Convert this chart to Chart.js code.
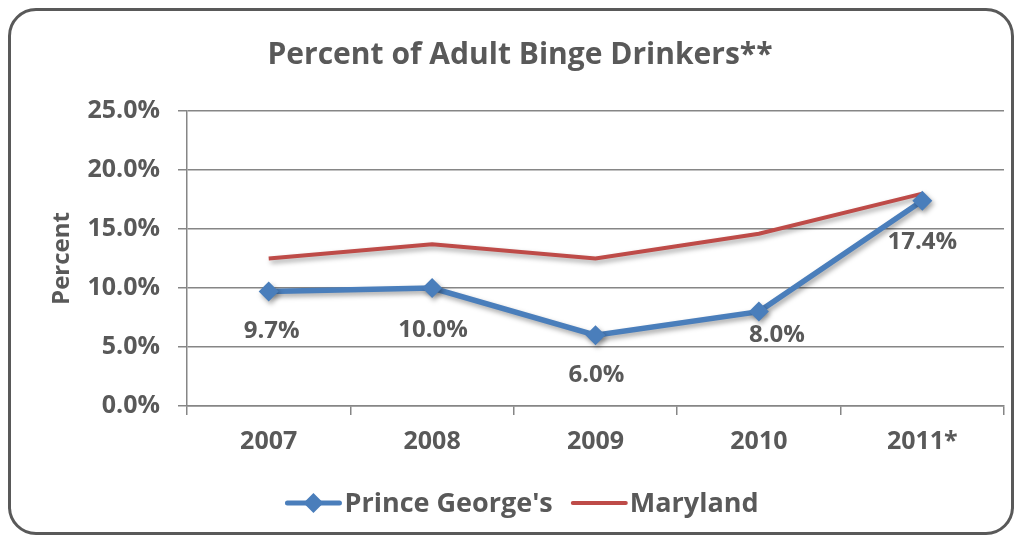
<!DOCTYPE html>
<html>
<head>
<meta charset="utf-8">
<script src="https://cdn.jsdelivr.net/npm/chart.js@4"></script>
<style>
    html, body { margin: 0; padding: 0; background: #fff; }
    #wrap { position: relative; width: 1021px; height: 542px; }
    #frame {
        position: absolute; left: 8px; top: 8px;
        width: 1000px; height: 521px;
        border: 3px solid #595959; border-radius: 28px;
    }
    #chart { position: absolute; left: 0; top: 0; }
</style>
</head>
<body>
<div id="wrap">
    <div id="frame"></div>
    <canvas id="chart" width="1021" height="542"></canvas>
</div>
<script>
// ===================================
// Data
// ===================================
const years = ['2007', '2008', '2009', '2010', '2011*'];
const princeGeorges = [9.7, 10.0, 6.0, 8.0, 17.4];
const maryland = [12.5, 13.7, 12.5, 14.6, 18.0];
const yTicks = [0, 5, 10, 15, 20, 25];

const TEXT = '#595959';
const FONT = "'Open Sans', sans-serif";
const BLUE = '#4A7EBB';
const RED = '#BE4B48';

// label offsets (px) for the Prince George's values
const labelShift = [[3, 40], [1, 42], [1, 40], [18, 24], [0, 41]];

// Shadow under the lines, Excel style
const shadowPlugin = {
    id: 'shadow',
    beforeDatasetDraw(chart) {
        const c = chart.ctx;
        c.save();
        c.shadowColor = 'rgba(0,0,0,0.35)';
        c.shadowBlur = 5;
        c.shadowOffsetX = 2;
        c.shadowOffsetY = 3;
    },
    afterDatasetDraw(chart) {
        chart.ctx.restore();
    }
};

// Title, value labels and legend
const decorPlugin = {
    id: 'decor',
    afterDraw(chart) {
        const c = chart.ctx;
        c.save();
        c.fillStyle = TEXT;
        c.textAlign = 'center';
        c.textBaseline = 'middle';

        // title
        c.font = 'bold 30px ' + FONT;
        c.fillText('Percent of Adult Binge Drinkers**', 520, 55);

        // value labels
        c.font = 'bold 24px ' + FONT;
        const meta = chart.getDatasetMeta(0);
        meta.data.forEach((pt, i) => {
            const s = labelShift[i];
            c.fillText(princeGeorges[i].toFixed(1) + '%', pt.x + s[0], pt.y + s[1]);
        });

        // legend
        c.font = 'bold 27px ' + FONT;
        const t1 = "Prince George's", t2 = 'Maryland';
        const w1 = c.measureText(t1).width, w2 = c.measureText(t2).width;
        const total = 52 + 5 + w1 + 20 + 53 + 4 + w2;
        let x = 523 - total / 2;
        const y = 503;
        c.lineCap = 'round';
        c.strokeStyle = BLUE; c.lineWidth = 5;
        c.beginPath(); c.moveTo(x, y); c.lineTo(x + 52, y); c.stroke();
        c.fillStyle = BLUE;
        c.beginPath();
        c.moveTo(x + 26, y - 10); c.lineTo(x + 36, y); c.lineTo(x + 26, y + 10); c.lineTo(x + 16, y);
        c.closePath(); c.fill();
        x += 57;
        c.fillStyle = TEXT; c.textAlign = 'left';
        c.fillText(t1, x, y + 1);
        x += w1 + 20;
        c.strokeStyle = RED; c.lineWidth = 4;
        c.beginPath(); c.moveTo(x, y); c.lineTo(x + 53, y); c.stroke();
        x += 57;
        c.fillText(t2, x, y + 1);
        c.restore();
    }
};

new Chart(document.getElementById('chart'), {
    type: 'line',
    data: {
        labels: years,
        datasets: [
            {
                label: "Prince George's",
                data: princeGeorges,
                borderColor: BLUE,
                backgroundColor: BLUE,
                borderWidth: 5.5,
                pointStyle: 'rectRot',
                pointRadius: 10,
                pointBorderWidth: 0,
                tension: 0
            },
            {
                label: 'Maryland',
                data: maryland,
                borderColor: RED,
                backgroundColor: RED,
                borderWidth: 4,
                pointRadius: 0,
                tension: 0
            }
        ]
    },
    options: {
        responsive: false,
        animation: false,
        devicePixelRatio: 1,
        layout: { padding: { top: 111, bottom: 76, left: 0, right: 17 } },
        plugins: {
            legend: { display: false },
            title: { display: false },
            tooltip: { enabled: false }
        },
        scales: {
            y: {
                min: 0,
                max: 25,
                afterBuildTicks: scale => { scale.ticks = yTicks.map(v => ({ value: v })); },
                afterFit: scale => { scale.width = 187; },
                ticks: {
                    color: TEXT,
                    padding: 18,
                    font: { family: FONT, size: 25, weight: 'bold' },
                    callback: v => v.toFixed(1) + '%'
                },
                grid: { color: '#868686', lineWidth: 1.5, tickLength: 9 },
                border: { color: '#868686', width: 1.5 },
                title: {
                    display: true,
                    text: 'Percent',
                    color: TEXT,
                    padding: { top: 48 },
                    font: { family: FONT, size: 24, weight: 'bold' }
                }
            },
            x: {
                offset: true,
                afterFit: scale => { scale.height = 60; },
                ticks: {
                    color: TEXT,
                    padding: 12,
                    font: { family: FONT, size: 25, weight: 'bold' }
                },
                grid: { offset: true, drawOnChartArea: false, color: '#868686', lineWidth: 1.5, tickLength: 9 },
                border: { color: '#868686', width: 1.5 }
            }
        }
    },
    plugins: [shadowPlugin, decorPlugin]
});
</script>
</body>
</html>
